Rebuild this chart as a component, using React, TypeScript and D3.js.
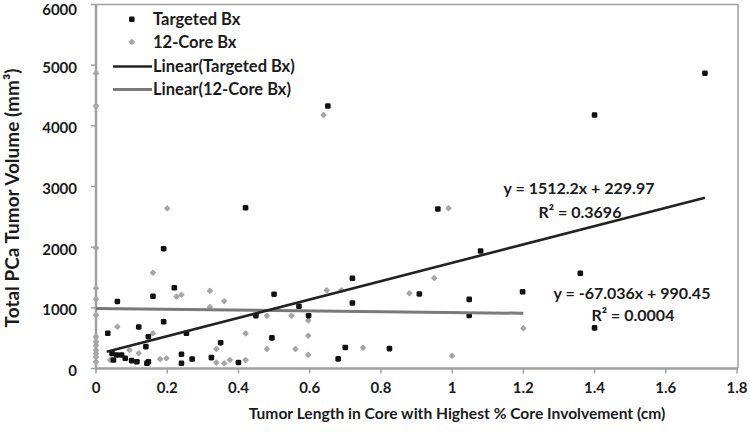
import React, { useEffect, useRef } from "react";
import * as d3 from "d3";

const W = 750;
const H = 432;

// Targeted Bx: [tumor length cm, volume mm3]
const targetedX = [0.033, 0.045, 0.049, 0.058, 0.06, 0.072, 0.082, 0.1, 0.115, 0.12, 0.14, 0.143, 0.147, 0.147, 0.16, 0.19, 0.19, 0.22, 0.24, 0.24, 0.254, 0.27, 0.324, 0.35, 0.4, 0.42, 0.449, 0.494, 0.5, 0.57, 0.597, 0.651, 0.68, 0.7, 0.72, 0.72, 0.824, 0.908, 0.96, 1.048, 1.048, 1.08, 1.198, 1.36, 1.4, 1.4, 1.71];
const targetedY = [580, 250, 140, 222, 1105, 222, 168, 130, 112, 685, 360, 86, 112, 524, 1190, 1975, 770, 1330, 234, 86, 581, 157, 180, 425, 100, 2650, 870, 505, 1225, 1025, 870, 4327, 158, 345, 1487, 1080, 327, 1229, 2629, 1140, 875, 1937, 1265, 1569, 670, 4178, 4866];

// 12-Core Bx
const coreX = [0, 0, 0, 0, 0, 0, 0, 0, 0, 0, 0, 0, 0, 0.04, 0.06, 0.094, 0.11, 0.12, 0.16, 0.16, 0.18, 0.198, 0.2, 0.226, 0.24, 0.32, 0.32, 0.338, 0.338, 0.36, 0.36, 0.376, 0.42, 0.42, 0.48, 0.48, 0.549, 0.56, 0.596, 0.596, 0.596, 0.639, 0.648, 0.689, 0.75, 0.88, 0.95, 0.99, 1.0, 1.2];
const coreY = [4866, 4327, 1990, 1322, 1140, 882, 520, 440, 380, 300, 250, 190, 110, 140, 690, 305, 112, 250, 580, 1580, 155, 168, 2640, 1185, 1215, 1280, 1015, 320, 96, 1110, 86, 140, 580, 140, 870, 320, 870, 320, 790, 541, 225, 4180, 1290, 1290, 343, 1240, 1490, 2640, 210, 663];

const xTicks = [0, 0.2, 0.4, 0.6, 0.8, 1, 1.2, 1.4, 1.6, 1.8];
const yTicks = [0, 1000, 2000, 3000, 4000, 5000, 6000];

const fitTargeted = { slope: 1512.2, intercept: 229.97, r2: "0.3696", x0: 0.03, x1: 1.71 };
const fitCore = { slope: -67.036, intercept: 990.45, r2: "0.0004", x0: 0, x1: 1.2 };

const legendLabels = ["Targeted Bx", "12-Core Bx", "Linear(Targeted Bx)", "Linear(12-Core Bx)"];

const FONT = "Lato, 'Open Sans', sans-serif";
const TEXT = "#1a1a1a";
const AXIS = "#a0a0a0";
const BLACK = "#111111";
const GRAY = "#a6a6a6";

export default function App() {
  const ref = useRef<SVGSVGElement | null>(null);

  useEffect(() => {
    const svg = d3.select(ref.current);
    svg.selectAll("*").remove();

    const left = 96, right = 737, top = 4.5, bottom = 368.5;
    const x = d3.scaleLinear().domain([0, 1.8]).range([left, right]);
    const y = d3.scaleLinear().domain([0, 6000]).range([bottom, top]);

    // border top/right
    svg.append("path")
      .attr("d", `M${left},${top}H${right + 1}V${bottom}`)
      .attr("fill", "none").attr("stroke", AXIS).attr("stroke-width", 1.5);

    // axes
    svg.append("line").attr("x1", left).attr("x2", left).attr("y1", top).attr("y2", bottom + 1)
      .attr("stroke", AXIS).attr("stroke-width", 2.5);
    svg.append("line").attr("x1", left).attr("x2", right + 1).attr("y1", bottom).attr("y2", bottom)
      .attr("stroke", AXIS).attr("stroke-width", 2.5);

    // ticks
    svg.selectAll(".xt").data(xTicks).enter().append("line")
      .attr("x1", d => x(d)).attr("x2", d => x(d)).attr("y1", bottom).attr("y2", bottom + 5)
      .attr("stroke", AXIS).attr("stroke-width", 1.5);
    svg.selectAll(".yt").data(yTicks).enter().append("line")
      .attr("x1", left - 5).attr("x2", left).attr("y1", d => y(d)).attr("y2", d => y(d))
      .attr("stroke", AXIS).attr("stroke-width", 1.5);

    svg.selectAll(".xl").data(xTicks).enter().append("text")
      .attr("x", d => x(d)).attr("y", 393)
      .attr("text-anchor", "middle").attr("font-family", FONT).attr("font-weight", 700)
      .attr("font-size", 15).attr("fill", TEXT).text(d => String(d));
    svg.selectAll(".yl").data(yTicks).enter().append("text")
      .attr("x", 77).attr("y", d => Math.max(y(d) + 7.5, 15))
      .attr("text-anchor", "end").attr("font-family", FONT).attr("font-weight", 700)
      .attr("font-size", 15).attr("fill", TEXT).text(d => String(d));

    // titles
    svg.append("text").attr("x", 457).attr("y", 419).attr("text-anchor", "middle")
      .attr("font-family", FONT).attr("font-weight", 700).attr("font-size", 15.6).attr("fill", TEXT)
      .text("Tumor Length in Core with Highest % Core Involvement (cm)");
    svg.append("text").attr("transform", "translate(19,198) rotate(-90)").attr("text-anchor", "middle")
      .attr("font-family", FONT).attr("font-weight", 700).attr("font-size", 19).attr("fill", TEXT)
      .text("Total PCa Tumor Volume (mm³)");

    // points
    const core = coreX.map((v, i) => [v, coreY[i]]);
    const targ = targetedX.map((v, i) => [v, targetedY[i]]);
    const s = 4.8;
    svg.selectAll(".cp").data(core).enter().append("rect")
      .attr("x", -s / 2).attr("y", -s / 2).attr("width", s).attr("height", s).attr("rx", 0.9)
      .attr("transform", d => `translate(${x(d[0])},${y(d[1])}) rotate(45)`)
      .attr("fill", GRAY);
    svg.selectAll(".tp").data(targ).enter().append("rect")
      .attr("x", d => x(d[0]) - 2.8).attr("y", d => y(d[1]) - 2.8)
      .attr("width", 5.6).attr("height", 5.6).attr("rx", 1.4)
      .attr("fill", BLACK);

    // trendlines
    const fitLine = (f: typeof fitTargeted) =>
      d3.line<number>().x(d => x(d)).y(d => y(f.slope * d + f.intercept))([f.x0, f.x1]);
    svg.append("path").attr("d", fitLine(fitCore)).attr("stroke", "#7a7a7a").attr("stroke-width", 3).attr("fill", "none");
    svg.append("path").attr("d", fitLine(fitTargeted)).attr("stroke", "#222").attr("stroke-width", 2.6).attr("fill", "none");

    // equations
    const eq = (txt: string, cx: number, cy: number) =>
      svg.append("text").attr("x", cx).attr("y", cy).attr("text-anchor", "middle")
        .attr("font-family", FONT).attr("font-weight", 700).attr("font-size", 16).attr("fill", TEXT).text(txt);
    eq(`y = ${fitTargeted.slope}x + ${fitTargeted.intercept}`, 579, 194);
    eq(`R² = ${fitTargeted.r2}`, 580, 218);
    eq(`y = ${fitCore.slope}x + ${fitCore.intercept}`, 632, 299);
    eq(`R² = ${fitCore.r2}`, 633, 321);

    // legend
    const lg = svg.append("g");
    const lx = 153;
    lg.append("rect").attr("x", 129).attr("y", 16.5).attr("width", 5.6).attr("height", 5.6).attr("rx", 1.4).attr("fill", BLACK);
    lg.append("rect").attr("x", -s / 2).attr("y", -s / 2).attr("width", s).attr("height", s).attr("rx", 0.9)
      .attr("transform", "translate(131.7,42) rotate(45)").attr("fill", GRAY);
    lg.append("line").attr("x1", 113).attr("x2", 152).attr("y1", 66.5).attr("y2", 66.5).attr("stroke", "#222").attr("stroke-width", 2.6);
    lg.append("line").attr("x1", 113).attr("x2", 152).attr("y1", 89.5).attr("y2", 89.5).attr("stroke", "#7a7a7a").attr("stroke-width", 3);
    const ly = [25, 48, 72, 95];
    legendLabels.forEach((t, i) => {
      lg.append("text").attr("x", lx).attr("y", ly[i]).attr("font-family", FONT).attr("font-weight", 700)
        .attr("font-size", 16.5).attr("fill", TEXT).text(t);
    });
  }, []);

  return (
    <svg ref={ref} width={W} height={H} style={{ position: "absolute", left: 0, top: 0, background: "#fff" }} />
  );
}
